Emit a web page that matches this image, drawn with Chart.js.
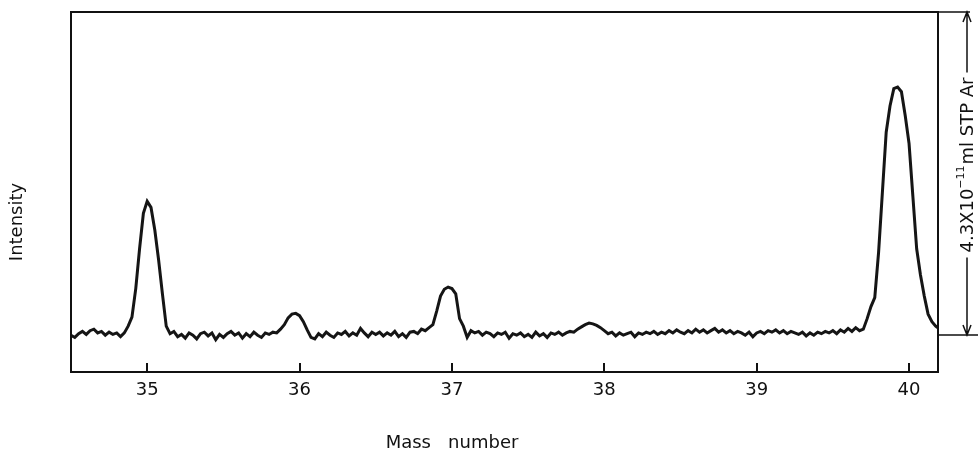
<!DOCTYPE html>
<html>
<head>
<meta charset="utf-8">
<script src="https://cdn.jsdelivr.net/npm/chart.js@4.4.1/dist/chart.umd.min.js"></script>
<style>
  html, body { margin: 0; padding: 0; background: #fff; }
  #spectrum { display: block; }
</style>
</head>
<body>
<canvas id="spectrum" width="978" height="456"></canvas>
<script>
// sampling grid of the recorder trace (mass number)
const massStart = 34.5;
const massStep = 0.025;
const massMin = 34.5;
const massMax = 40.19;
const tickMasses = [35, 36, 37, 38, 39, 40];

// intensity in units of 1e-11 ml STP Ar (one row = 0.2 mass units)
const intensity = [
   0.00, -0.03,  0.02,  0.05,  0.01,  0.06,  0.08,  0.03,   // 34.5
   0.05,  0.00,  0.04,  0.01,  0.03, -0.02,  0.03,  0.12,   // 34.7
   0.24,  0.62,  1.15,  1.62,  1.78,  1.70,  1.40,  1.00,   // 34.9
   0.55,  0.12,  0.02,  0.05, -0.02,  0.01, -0.04,  0.03,   // 35.1
   0.00, -0.05,  0.02,  0.04, -0.01,  0.03, -0.06,  0.01,   // 35.3
  -0.03,  0.02,  0.05,  0.00,  0.03, -0.04,  0.02, -0.02,   // 35.5
   0.04,  0.00, -0.03,  0.03,  0.01,  0.04,  0.03,  0.08,   // 35.7
   0.14,  0.23,  0.28,  0.29,  0.26,  0.18,  0.07, -0.03,   // 35.9
  -0.05,  0.02, -0.02,  0.04,  0.00, -0.03,  0.03,  0.01,   // 36.1
   0.05, -0.01,  0.03,  0.00,  0.09,  0.03, -0.02,  0.04,   // 36.3
   0.01,  0.04, -0.01,  0.03,  0.00,  0.05, -0.02,  0.02,   // 36.5
  -0.03,  0.04,  0.05,  0.02,  0.08,  0.06,  0.10,  0.14,   // 36.7
   0.32,  0.52,  0.61,  0.64,  0.62,  0.55,  0.22,  0.12,   // 36.9
  -0.03,  0.06,  0.03,  0.05,  0.00,  0.04,  0.02, -0.02,   // 37.1
   0.03,  0.01,  0.04, -0.04,  0.02,  0.00,  0.03, -0.02,   // 37.3
   0.01, -0.03,  0.04, -0.01,  0.02, -0.03,  0.03,  0.01,   // 37.5
   0.04,  0.00,  0.03,  0.05,  0.04,  0.08,  0.11,  0.14,   // 37.7
   0.16,  0.15,  0.13,  0.10,  0.06,  0.02,  0.04, -0.01,   // 37.9
   0.03,  0.00,  0.02,  0.04, -0.02,  0.03,  0.01,  0.04,   // 38.1
   0.02,  0.05,  0.01,  0.04,  0.02,  0.06,  0.03,  0.07,   // 38.3
   0.04,  0.02,  0.06,  0.03,  0.08,  0.04,  0.07,  0.03,   // 38.5
   0.06,  0.09,  0.04,  0.07,  0.03,  0.06,  0.02,  0.05,   // 38.7
   0.03,  0.00,  0.04, -0.02,  0.03,  0.05,  0.02,  0.06,   // 38.9
   0.04,  0.07,  0.03,  0.06,  0.02,  0.05,  0.03,  0.01,   // 39.1
   0.04, -0.01,  0.03,  0.00,  0.04,  0.02,  0.05,  0.03,   // 39.3
   0.06,  0.02,  0.07,  0.04,  0.09,  0.05,  0.10,  0.06,   // 39.5
   0.08,  0.22,  0.38,  0.50,  1.10,  1.90,  2.70,  3.05,   // 39.7
   3.28,  3.30,  3.24,  2.92,  2.55,  1.85,  1.15,  0.80,   // 39.9
   0.52,  0.28,  0.18,  0.12,  0.08                          // 40.1
];

// calibration bar on the right
const calibValue = 4.3;
const calibMain = '4.3X10';
const calibExp = '\u221211';
const calibUnit = 'ml STP Ar';

const xTitle = 'Mass   number';
const yTitle = 'Intensity';

const FONT = '"DejaVu Sans", "Open Sans", sans-serif';

const points = intensity.map((v, i) => ({ x: +(massStart + i * massStep).toFixed(3), y: v }));

// frame, inward ticks, axis titles and the calibration arrow
const decorations = {
    id: 'decorations',
    afterDatasetsDraw(chart) {
        const { ctx, chartArea: a, scales: { x, y } } = chart;
        ctx.save();
        ctx.strokeStyle = '#111';
        ctx.fillStyle = '#111';
        ctx.lineWidth = 2;
        ctx.strokeRect(a.left, a.top, a.right - a.left, a.bottom - a.top);

        x.ticks.forEach((t) => {
            const px = Math.round(x.getPixelForValue(t.value));
            ctx.beginPath();
            ctx.moveTo(px, a.bottom);
            ctx.lineTo(px, a.bottom - 9);
            ctx.stroke();
        });

        // axis titles
        ctx.font = '18px ' + FONT;
        ctx.textAlign = 'center';
        ctx.textBaseline = 'alphabetic';
        ctx.fillText(xTitle, 452, 448);
        ctx.save();
        ctx.translate(17, 222);
        ctx.rotate(-Math.PI / 2);
        ctx.textBaseline = 'middle';
        ctx.fillText(yTitle, 0, 0);
        ctx.restore();

        // calibration arrow
        const ax = a.right + 29;
        const y0 = Math.round(y.getPixelForValue(0));
        const yTop = Math.round(y.getPixelForValue(calibValue));
        ctx.lineWidth = 1.5;
        ctx.beginPath();
        ctx.moveTo(a.right, y0);
        ctx.lineTo(chart.width, y0);
        ctx.moveTo(a.right, yTop);
        ctx.lineTo(ax + 3, yTop);
        ctx.stroke();

        const mainFont = '18px ' + FONT;
        const expFont = '11px ' + FONT;
        ctx.font = mainFont;
        const w1 = ctx.measureText(calibMain).width;
        const w3 = ctx.measureText(calibUnit).width;
        ctx.font = expFont;
        const w2 = ctx.measureText(calibExp).width + 1;
        const total = w1 + w2 + w3;
        const cy = 165;
        const textTop = cy - total / 2;
        const textBottom = cy + total / 2;

        ctx.beginPath();
        ctx.moveTo(ax, yTop);
        ctx.lineTo(ax, textTop - 5);
        ctx.moveTo(ax, textBottom + 5);
        ctx.lineTo(ax, y0);
        // arrow heads
        ctx.moveTo(ax - 4, yTop + 10);
        ctx.lineTo(ax, yTop);
        ctx.lineTo(ax + 4, yTop + 10);
        ctx.moveTo(ax - 4, y0 - 10);
        ctx.lineTo(ax, y0);
        ctx.lineTo(ax + 4, y0 - 10);
        ctx.stroke();

        ctx.save();
        ctx.translate(ax + 1, textBottom);
        ctx.rotate(-Math.PI / 2);
        ctx.textAlign = 'left';
        ctx.textBaseline = 'middle';
        ctx.font = mainFont;
        ctx.fillText(calibMain, 0, 0);
        ctx.font = expFont;
        ctx.fillText(calibExp, w1, -7);
        ctx.font = mainFont;
        ctx.fillText(calibUnit, w1 + w2, 0);
        ctx.restore();

        ctx.restore();
    },
};

new Chart(document.getElementById('spectrum'), {
    type: 'line',
    data: {
        datasets: [
            { data: points, borderColor: '#151515', borderWidth: 3, pointRadius: 0, tension: 0 },
            { data: points, borderColor: '#8c8c8c', borderWidth: 1.2, pointRadius: 0, tension: 0 },
        ],
    },
    options: {
        responsive: false,
        animation: false,
        devicePixelRatio: 1,
        layout: { padding: { left: 71, right: 40, top: 12, bottom: 0 } },
        plugins: { legend: { display: false }, tooltip: { enabled: false } },
        scales: {
            x: {
                type: 'linear',
                min: massMin,
                max: massMax,
                afterBuildTicks: (axis) => { axis.ticks = tickMasses.map((value) => ({ value })); },
                afterFit: (axis) => { axis.height = 84; },
                grid: { display: false, drawTicks: false },
                border: { display: false },
                ticks: {
                    color: '#111',
                    padding: 8,
                    maxRotation: 0,
                    autoSkip: false,
                    font: { family: FONT, size: 18 },
                },
            },
            y: { display: false, min: -0.49, max: calibValue },
        },
    },
    plugins: [decorations],
});
</script>
</body>
</html>
